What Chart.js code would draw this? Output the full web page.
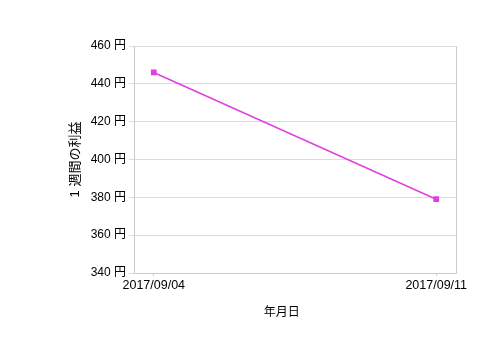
<!DOCTYPE html>
<html><head><meta charset="utf-8">
<script src="https://cdn.jsdelivr.net/npm/chart.js@4/dist/chart.umd.min.js"></script>
<style>html,body{margin:0;padding:0;background:#fff}#w{width:480px;height:360px}</style>
</head><body><div id="w"><canvas id="c" width="480" height="360"></canvas></div>
<script>
const categories = ["2017/09/04", "2017/09/11"];
const profit = [446, 379];
const yTicks = [340, 360, 380, 400, 420, 440, 460];
const yTitle = "1 週間の利益";
const xTitle = "年月日";

const FONT = "'Liberation Sans', Arial, sans-serif";
const CJK = "'Liberation Sans', 'Noto Sans CJK JP', sans-serif";

new Chart(document.getElementById('c'), {
  type: 'line',
  data: {
    datasets: [{
      data: profit.map((v, i) => ({x: i, y: v})),
      borderColor: '#e040e0',
      backgroundColor: '#e040e0',
      borderWidth: 1.5,
      pointStyle: 'rect',
      pointRadius: 3,
      tension: 0
    }]
  },
  options: {
    responsive: false,
    animation: false,
    plugins: {legend: {display: false}, tooltip: {enabled: false}},
    layout: {padding: {left: 68, top: 46, right: 24, bottom: 40}},
    scales: {
      x: {
        type: 'linear', min: -0.07, max: 1.07,
        afterBuildTicks: s => { s.ticks = categories.map((c, i) => ({value: i})); },
        afterFit: s => { s.height = 47; },
        ticks: {
          callback: (v) => categories[v] ?? '',
          color: '#000', font: {family: FONT, size: 12.5}, padding: 2, maxRotation: 0, autoSkip: false
        },
        grid: {drawOnChartArea: false, tickLength: 3, color: '#ccc'},
        border: {color: '#ccc'},
        title: {display: true, text: xTitle + '        ', color: '#000', font: {family: CJK, size: 12}, padding: {top: 5, bottom: 0}}
      },
      y: {
        min: 340, max: 460,
        afterBuildTicks: s => { s.ticks = yTicks.map(v => ({value: v})); },
        afterFit: s => { s.width = 66; },
        ticks: {
          callback: v => v + ' 円',
          color: '#000', font: {family: CJK, size: 12}, padding: 3
        },
        grid: {color: '#dcdcdc', tickLength: 5},
        border: {color: '#ccc'},
        title: {display: true, text: yTitle, color: '#000', font: {family: CJK, size: 13}, padding: {top: 0, bottom: 0}}
      },
      y2: {
        position: 'right', min: 340, max: 460,
        afterFit: s => { s.width = 0; },
        ticks: {display: false},
        grid: {display: false},
        border: {display: true, color: '#ccc'}
      }
    }
  }
});
</script></body></html>
